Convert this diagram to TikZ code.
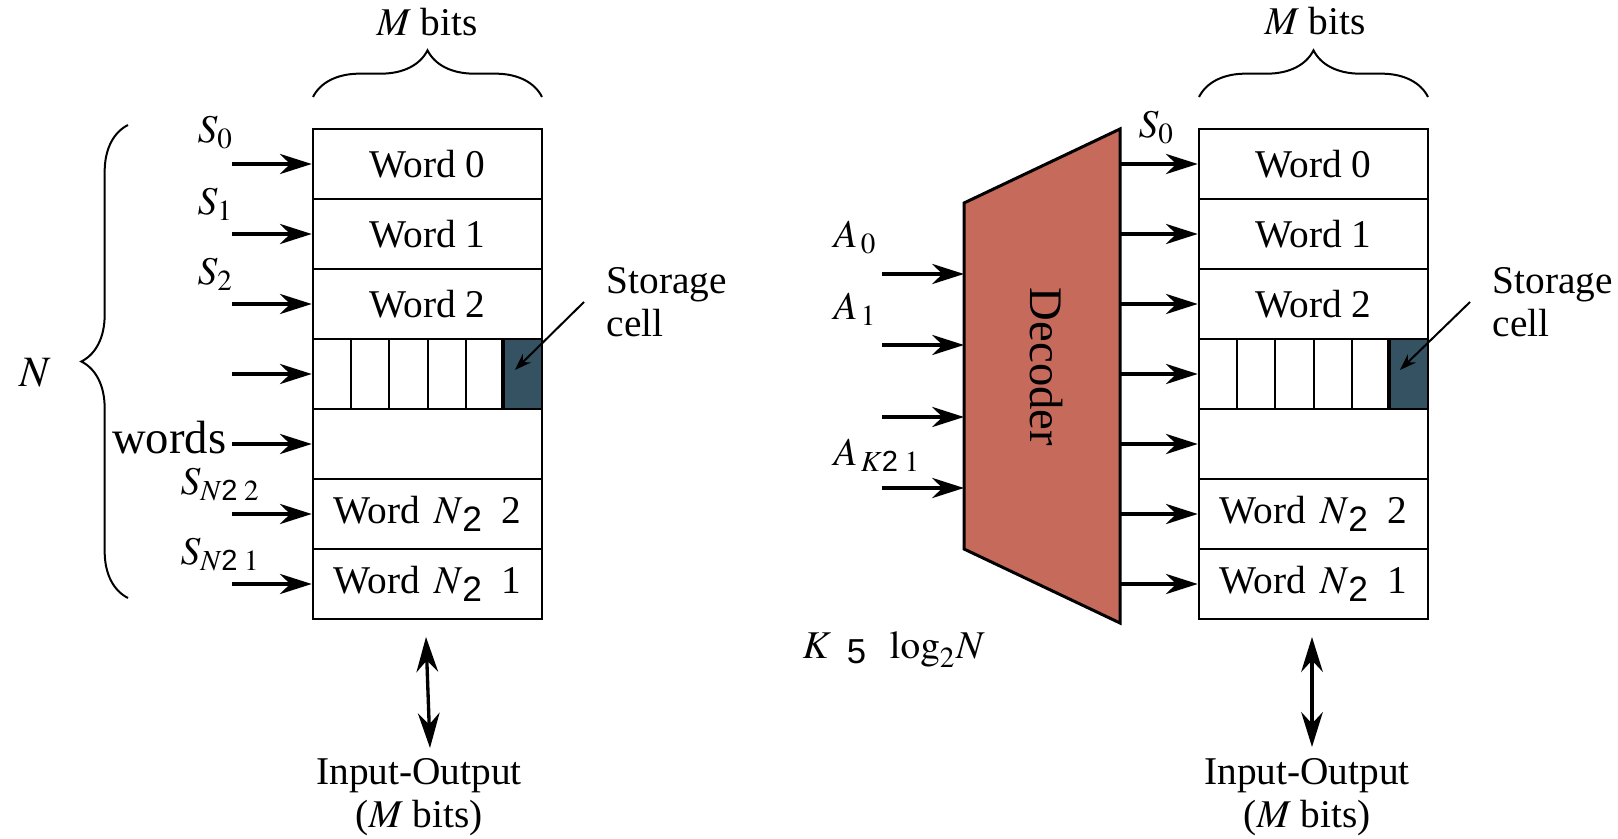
\documentclass[tikz,border=0pt]{standalone}
\usepackage{amsmath}
\usepackage{mathptmx}
\usepackage{fontspec}
\setmainfont{Liberation Serif}
\setsansfont{Liberation Sans}
\usetikzlibrary{arrows.meta,decorations.pathreplacing}
\definecolor{decfill}{HTML}{C66B5B}
\definecolor{cellfill}{HTML}{345262}
\newcommand{\mtwo}{\raisebox{-2.4pt}{\fontsize{10.6}{11}\selectfont\sffamily 2}}
\newcommand{\stwo}{\text{\sffamily 2}}
\newcommand{\mfive}{\raisebox{-1.5pt}{\fontsize{10.4}{12}\selectfont\sffamily 5}}
\tikzset{
  word/.style={draw,line width=0.75pt,minimum width=68.7pt,minimum height=21pt,inner sep=0pt},
  cellbox/.style={fill=cellfill,minimum width=11.46pt,minimum height=21pt,inner sep=0pt},
  sel/.style={-{Stealth[length=9.5pt,width=6pt,inset=3pt]},line width=1.3pt},
  io/.style={{Stealth[length=10.5pt,width=6.5pt,inset=3.5pt]}-{Stealth[length=10.5pt,width=6.5pt,inset=3.5pt]},line width=1pt},
  pointer/.style={-{Stealth[length=5pt,width=3.5pt]},line width=0.6pt},
  curly/.style={decorate,decoration={brace,amplitude=14pt},line width=0.6pt},
  lbl/.style={inner sep=0pt},
  big/.style={font=\fontsize{14}{16}\selectfont},
}

\begin{document}
\begin{tikzpicture}[x=0.3pt,y=-0.3pt,font=\fontsize{11.8}{12.9}\selectfont]
  \useasboundingbox (0,0) rectangle (1618,839);
  % left memory
  \node[cellbox] (Lc) at (522.9,374) {};
  \foreach \t [count=\i from 0] in {Word 0,Word 1,Word 2,{},{},
      Word\hspace{0.35em}$N$\mtwo\enspace 2,Word\hspace{0.35em}$N$\mtwo\enspace 1}
    \node[word] (L\i) at (427.5,{164+70*\i}) {\t};
  \foreach \xx in {351.2,389.3,427.5,465.7}
    \draw[line width=0.6pt] (\xx,339) -- (\xx,409);
  \draw[line width=1.1pt] (Lc.north west) -- (Lc.south west);
  \foreach \i in {0,...,6} {
    \coordinate (ls\i) at (232,{164+70*\i});
    \draw[sel] (ls\i) -- (L\i.west);
  }
  \node[lbl,anchor=base west] (s0) at (197,143) {$S_0$};
  \node[lbl,anchor=base west] (s1) at (197,215) {$S_1$};
  \node[lbl,anchor=base west] (s2) at (197,285) {$S_2$};
  \node[lbl,anchor=base west] (sn2) at (180,494) {$S_{N\stwo\;2}$};
  \node[lbl,anchor=base west] (sn1) at (180,564) {$S_{N\stwo\;1}$};
  \node[lbl,big,anchor=base east] (words) at (227,454) {words};
  \node[lbl,font=\fontsize{13}{15}\selectfont] (nn) at (35,373) {$N$};
  \draw[curly] (128,598) -- (128,125);
  \draw[curly] (313,97) -- (542,97);
  \node[lbl,anchor=base] (lm) at (427,36) {$M$ bits};
  \node[lbl,anchor=west,align=left] (lst) at (606,302) {Storage\\cell};
  \draw[pointer] ([xshift=-6.6pt]lst.west) -- ([xshift=-2.4pt,yshift=1.2pt]Lc.center);
  \coordinate (lio-a) at (426,637);
  \coordinate (lio-b) at (430,748);
  \draw[io] (lio-a) -- (lio-b);
  \node[lbl,anchor=north,align=center] (lio) at (419,758) {Input-Output\\($M$ bits)};

  % decoder
  \draw[line width=0.9pt,fill=decfill] (964,203) -- (1120,129) -- (1120,623) -- (964,549) -- cycle;
  \node[lbl,big,rotate=-90] (dec) at (1046,367) {Decoder};
  \foreach \y [count=\i from 0] in {274,345,417,488} {
    \coordinate (ai\i) at (882,\y);
    \coordinate (di\i) at (964,\y);
    \draw[sel] (ai\i) -- (di\i);
  }
  \node[lbl,anchor=base west] (a0) at (833,248) {$A_{\,0}$};
  \node[lbl,anchor=base west] (a1) at (833,320) {$A_{\,1}$};
  \node[lbl,anchor=base west] (ak) at (833,465) {$A_{\,K\stwo\;1}$};
  \node[lbl,anchor=base west] (kk) at (802,658) {$K$\hspace{0.4em}\mfive\hspace{0.6em}$\log_2\!N$};

  % right memory
  \node[cellbox] (Rc) at (1408.9,374) {};
  \foreach \t [count=\i from 0] in {Word 0,Word 1,Word 2,{},{},
      Word\hspace{0.35em}$N$\mtwo\enspace 2,Word\hspace{0.35em}$N$\mtwo\enspace 1}
    \node[word] (R\i) at (1313.5,{164+70*\i}) {\t};
  \foreach \xx in {1237.2,1275.3,1313.5,1351.7}
    \draw[line width=0.6pt] (\xx,339) -- (\xx,409);
  \draw[line width=1.1pt] (Rc.north west) -- (Rc.south west);
  \foreach \i in {0,...,6} {
    \coordinate (do\i) at (1120,{164+70*\i});
    \draw[sel] (do\i) -- (R\i.west);
  }
  \node[lbl,anchor=base west] (rs0) at (1138,138) {$S_0$};
  \draw[curly] (1199,97) -- (1428,97);
  \node[lbl,anchor=base] (rm) at (1315,35) {$M$ bits};
  \node[lbl,anchor=west,align=left] (rst) at (1492,302) {Storage\\cell};
  \draw[pointer] ([xshift=-6.6pt]rst.west) -- ([xshift=-2.7pt,yshift=1.2pt]Rc.center);
  \coordinate (rio-a) at (1312,637);
  \coordinate (rio-b) at (1312,747);
  \draw[io] (rio-a) -- (rio-b);
  \node[lbl,anchor=north,align=center] (rio) at (1307,758) {Input-Output\\($M$ bits)};
\end{tikzpicture}
\end{document}
